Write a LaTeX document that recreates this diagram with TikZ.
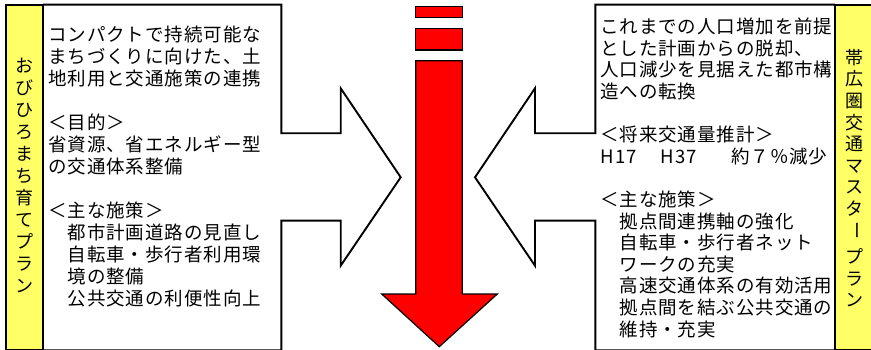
\documentclass[tikz,border=0pt]{standalone}
\usepackage{fontspec}
\newfontfamily\jp{Noto Sans CJK JP}
\newfontfamily\jpsp[LetterSpace=5.0]{Noto Sans CJK JP}
\definecolor{lblyellow}{RGB}{255,255,102}
\begin{document}
\begin{tikzpicture}[x=1pt,y=-1pt,
  frame/.style={draw=black, line width=1.9pt, line join=miter, fill=white},
  lbl/.style={draw=black, line width=1.9pt, fill=lblyellow},
  redshape/.style={draw=black, line width=1.2pt, line join=miter, fill=red},
  txt/.style={font=\jpsp\fontsize{18.5}{22}\selectfont, inner sep=0pt, anchor=base west},
  vtxt/.style={font=\jp\fontsize{18}{22}\selectfont, inner sep=0pt, anchor=base}]
\useasboundingbox (0,0) rectangle (871,350);
\clip (0,0) rectangle (871,350);
\fill[white] (0,0) rectangle (871,350);
% left frame with arrow notch
\draw[frame] (43,4.7) -- (281.3,4.7) -- (281.3,133.3) -- (340.7,133.3) -- (340.7,88.3)
  -- (400.7,177.3) -- (340.7,265.7) -- (340.7,220.7) -- (281.3,220.7) -- (281.3,350.3) -- (43,350.3);
\draw[lbl] (5.8,4.7) rectangle (42.8,350.3);
% right frame with arrow notch
\draw[frame] (835,4.7) -- (595.3,4.7) -- (595.3,133.3) -- (535,133.3) -- (535,88.3)
  -- (475,177.3) -- (535,265.7) -- (535,220.7) -- (595.3,220.7) -- (595.3,350.3) -- (835,350.3);
\draw[lbl] (835,4.7) rectangle (880,350.3);
% red arrow
\draw[redshape] (415.7,6.7) rectangle (462.3,17.7);
\draw[redshape] (415.7,28.7) rectangle (462.3,50);
\draw[redshape] (415.7,60.7) -- (462.3,60.7) -- (462.3,294) -- (497.3,294) -- (439.3,346.7)
  -- (381.7,294) -- (415.7,294) -- cycle;
% left text
\foreach \i/\t in {1/コンパクトで持続可能な, 2/まちづくりに向けた、土, 3/地利用と交通施策の連携,
  5/＜目的＞, 6/省資源、省エネルギー型, 7/の交通体系整備,
  9/＜主な施策＞, 10/　都市計画道路の見直し, 11/　自転車・歩行者利用環, 12/　境の整備, 13/　公共交通の利便性向上}
  \node[txt] (L\i) at (48,{41.2+22*(\i-1)}) {\t};
% right text
\foreach \i/\t in {1/これまでの人口増加を前提, 2/とした計画からの脱却、, 3/人口減少を見据えた都市構, 4/造への転換,
  6/＜将来交通量推計＞,
  9/＜主な施策＞, 10/　拠点間連携軸の強化, 11/　自転車・歩行者ネット, 12/　ワークの充実,
  13/　高速交通体系の有効活用, 14/　拠点間を結ぶ公共交通の, 15/　維持・充実}
  \node[txt] (R\i) at (600,{33.7+21.6*(\i-1)}) {\t};
\node[txt] (R7a) at (600.5,{33.7+21.6*6}) {H17};
\node[txt] (R7b) at (660.5,{33.7+21.6*6}) {H37};
\node[txt] (R7c) at (731,{33.7+21.6*6}) {約７％減少};
% left vertical label
\foreach \i/\c in {1/お, 2/び, 3/ひ, 4/ろ, 5/ま, 6/ち, 7/育, 8/て, 9/プ, 10/ラ, 11/ン}
  \node[vtxt] (VL\i) at (24.3,{72.3+22*(\i-1)}) {\c};
% right vertical label
\foreach \i/\c in {1/帯, 2/広, 3/圏, 4/交, 5/通, 6/マ, 7/ス, 8/タ}
  \node[vtxt] (VR\i) at (854,{64.3+21.6*(\i-1)}) {\c};
\node[font=\jp\fontsize{18}{22}\selectfont, inner sep=0pt, rotate=-90] (VR9) at (854,230.3) {ー};
\node[vtxt] (VR10) at (854,263.8) {プ};
\node[vtxt] (VR11) at (854,285.8) {ラ};
\node[vtxt] (VR12) at (854,306.8) {ン};
\end{tikzpicture}
\end{document}
